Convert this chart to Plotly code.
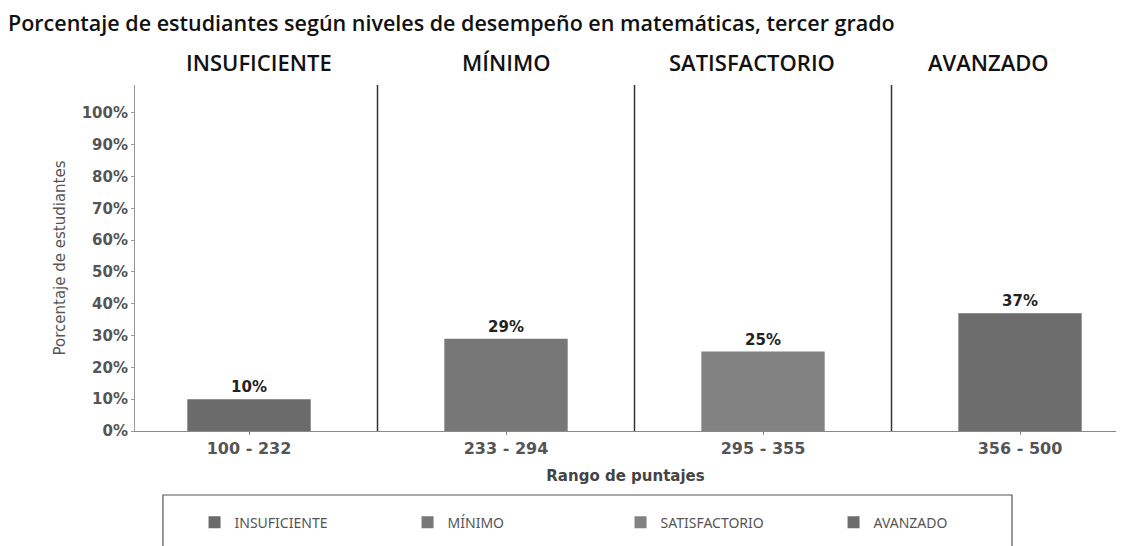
import plotly.graph_objects as go

levels = ["INSUFICIENTE", "MÍNIMO", "SATISFACTORIO", "AVANZADO"]
ranges = ["100 - 232", "233 - 294", "295 - 355", "356 - 500"]
values = [10, 29, 25, 37]
colors = ["#6b6b6b", "#777777", "#828282", "#6d6d6d"]
yticks = [0, 10, 20, 30, 40, 50, 60, 70, 80, 90, 100]
title = "Porcentaje de estudiantes según niveles de desempeño en matemáticas, tercer grado"

fig = go.Figure()
for i, lvl in enumerate(levels):
    fig.add_trace(go.Bar(
        x=[ranges[i]], y=[values[i]], name=lvl,
        marker=dict(color=colors[i], line=dict(width=0)),
        width=0.48,
        text=[f"{values[i]}%"], textposition="outside",
        textfont=dict(family="DejaVu Sans", size=15, color="#222222", weight="bold"),
        cliponaxis=False,
    ))

# separators between categories
for k in range(len(ranges) - 1):
    fig.add_shape(type="line", xref="x", yref="paper", x0=k + 0.5, x1=k + 0.5, y0=0, y1=1,
                  line=dict(color="#333333", width=1.5))

# level headers
header_x = [0.04, 1.0, 1.957, 2.879]
for lvl, hx in zip(levels, header_x):
    fig.add_annotation(text=lvl, x=hx, xref="x", y=1.066, yref="paper", showarrow=False,
                       xanchor="center", yanchor="middle",
                       font=dict(family="Open Sans", size=22, color="#111111", weight=600))

# legend box
fig.add_shape(type="rect", xref="paper", yref="paper", x0=0.0285, x1=0.894, y0=-0.5, y1=-0.185,
              line=dict(color="#555555", width=1.2), fillcolor="rgba(0,0,0,0)")

fig.update_layout(
    width=1108, height=546,
    margin=dict(l=127, r=0, t=77, b=123, autoexpand=False),
    paper_bgcolor="white", plot_bgcolor="white",
    barmode="overlay",
    title=dict(text=title, x=0.0, xanchor="left", y=1 - 15 / 546, yanchor="middle",
               font=dict(family="Open Sans", size=21.5, color="#111111", weight=600)),
    xaxis=dict(
        categoryorder="array", categoryarray=ranges,
        range=[-0.4436, 3.3735],
        showline=True, linecolor="#888888", linewidth=1,
        ticks="outside", ticklen=3, tickcolor="#888888",
        tickfont=dict(family="DejaVu Sans", size=16, color="#555555", weight="bold"),
        title=dict(text="Rango de puntajes", standoff=13,
                   font=dict(family="DejaVu Sans", size=15, color="#444444", weight="bold")),
        showgrid=False, zeroline=False,
    ),
    yaxis=dict(
        range=[0, 108.8], tickvals=yticks, ticktext=[f"{v}%" for v in yticks],
        showline=True, linecolor="#999999", linewidth=1,
        ticks="outside", ticklen=3, tickcolor="#999999",
        tickfont=dict(family="DejaVu Sans", size=15, color="#555555", weight="bold"),
        title=dict(text="Porcentaje de estudiantes", standoff=12,
                   font=dict(family="DejaVu Sans", size=15, color="#555555")),
        showgrid=False, zeroline=False,
    ),
    legend=dict(orientation="h", x=0.0607, xanchor="left", y=-0.265, yanchor="middle",
                entrywidth=168, entrywidthmode="pixels",
                font=dict(family="Noto Sans", size=14, color="#555555"),
                bgcolor="rgba(0,0,0,0)"),
    showlegend=True,
)

fig.write_html("out.html")
